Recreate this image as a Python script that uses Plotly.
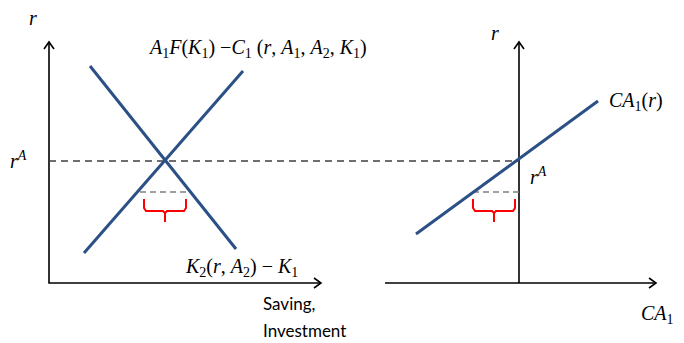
import plotly.graph_objects as go

# schematic coordinates (pixel-like units, y grows downward)
left_axis_x = [49, 49, 321]
left_axis_y = [42, 283, 283]
right_axis_x = [519, 519]
right_axis_y = [42, 283]
right_haxis_x = [385, 656]
right_haxis_y = [283, 283]

investment_x = [90, 236]
investment_y = [66, 249]
saving_x = [84, 243]
saving_y = [253, 71]
ca_x = [416, 598]
ca_y = [234, 101]

r_autarky = 161
r_world = 192
autarky_dash_x = [49, 519]
gap_left_x = [140, 190]
gap_right_x = [473, 519]
brace_left = [144, 186]
brace_right = [473, 515]

BLUE = "#2B5086"
MATH = "Liberation Serif"
SANS = "Lato"

fig = go.Figure()


def line(x, y, color="black", width=1.6, dash=None):
    fig.add_trace(go.Scatter(x=x, y=y, mode="lines", hoverinfo="skip",
                             line=dict(color=color, width=width, dash=dash),
                             showlegend=False))


def brace(x0, x1, top=199, bot=211, tip=222):
    m = (x0 + x1) / 2
    xs = [x0, x0, x0 + 2, m - 2, m, m, None, m, m + 2, x1 - 2, x1, x1]
    ys = [top, bot - 3, bot, bot, bot + 2, tip, None, bot + 2, bot, bot, bot - 3, top]
    line(xs, ys, color="#FF0000", width=2)


def arrow_up(x, y):
    line([x - 5, x, x + 5], [y + 7, y, y + 7])


def arrow_right(x, y):
    line([x - 7, x, x - 7], [y - 5, y, y + 5])


# axes
line(left_axis_x, left_axis_y)
arrow_up(left_axis_x[0], left_axis_y[0])
arrow_right(left_axis_x[-1], left_axis_y[-1])
line(right_axis_x, right_axis_y)
arrow_up(right_axis_x[0], right_axis_y[0])
line(right_haxis_x, right_haxis_y)
arrow_right(right_haxis_x[-1], right_haxis_y[-1])

# dashed levels
line(autarky_dash_x, [r_autarky, r_autarky], color="#404040", width=1.6, dash="7px,5px")
line(gap_left_x, [r_world, r_world], color="#808080", width=1.6, dash="6px,4px")
line(gap_right_x, [r_world, r_world], color="#808080", width=1.6, dash="6px,4px")

# curves
line(investment_x, investment_y, color=BLUE, width=3)
line(saving_x, saving_y, color=BLUE, width=3)
line(ca_x, ca_y, color=BLUE, width=3)

brace(*brace_left)
brace(*brace_right)


def label(x, y, text, size=20, family=MATH, anchor="left"):
    fig.add_annotation(x=x, y=y, xref="x", yref="y", text=text, showarrow=False,
                       xanchor=anchor, yanchor="middle",
                       font=dict(family=family, size=size, color="black"))


label(33, 18, "<i>r</i>", anchor="center")
label(495, 33, "<i>r</i>", anchor="center")
label(8, 160, "<i>r</i><sup><i>A</i></sup>")
label(528, 176, "<i>r</i><sup><i>A</i></sup>")
label(146, 48, "<i>A</i><sub>1</sub><i>F</i>(<i>K</i><sub>1</sub>) −<i>C</i><sub>1</sub> "
               "(<i>r</i>, <i>A</i><sub>1</sub>, <i>A</i><sub>2</sub>, <i>K</i><sub>1</sub>)")
label(183, 267, "<i>K</i><sub>2</sub>(<i>r</i>, <i>A</i><sub>2</sub>) − <i>K</i><sub>1</sub>")
label(607, 101, "<i>CA</i><sub>1</sub>(<i>r</i>)")
label(676, 314, "<i>CA</i><sub>1</sub>", anchor="right")
label(261, 303, "Saving,", size=17, family=SANS)
label(261, 330, "Investment", size=17, family=SANS)

# the page body adds 8px around the plot, so the figure shows reference pixels 8..684
fig.update_layout(
    width=676, height=335,
    margin=dict(l=0, r=0, t=0, b=0),
    paper_bgcolor="white", plot_bgcolor="white",
    xaxis=dict(range=[8, 684], visible=False, fixedrange=True),
    yaxis=dict(range=[343, 8], visible=False, fixedrange=True),
    showlegend=False,
)
fig.write_html("out.html")
